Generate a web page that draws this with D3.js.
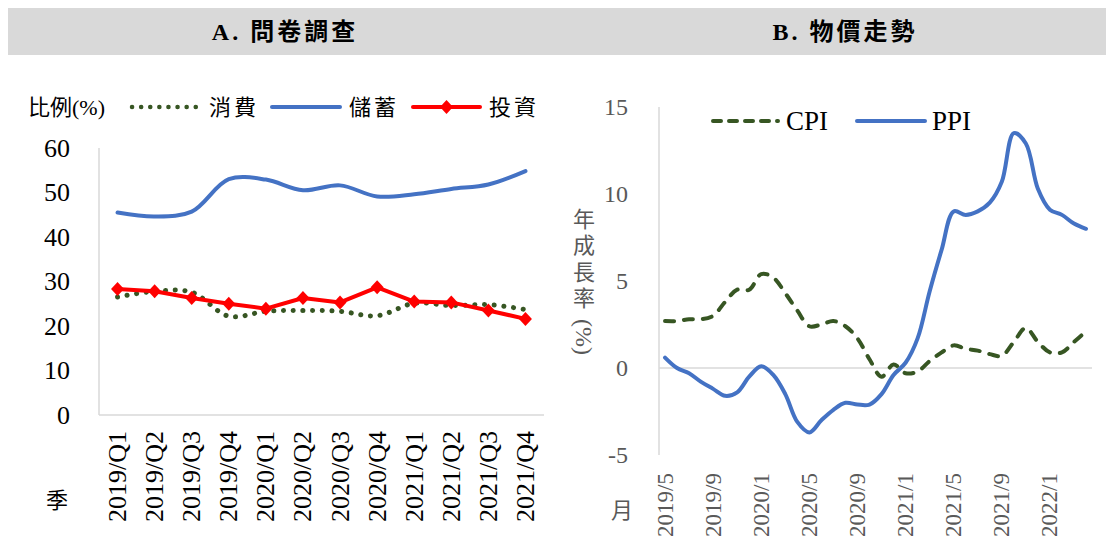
<!DOCTYPE html>
<html><head><meta charset="utf-8">
<script src="https://cdn.jsdelivr.net/npm/d3@7"></script>
<style>body{margin:0;background:#fff} svg{display:block}</style>
</head><body>
<svg id="c" width="1110" height="540"></svg>
<script>
// ---------- Panel A data ----------
const quarters = ["2019/Q1","2019/Q2","2019/Q3","2019/Q4","2020/Q1","2020/Q2","2020/Q3","2020/Q4","2021/Q1","2021/Q2","2021/Q3","2021/Q4"];
const consumption = [26.5, 27.8, 27.6, 22.2, 23.3, 23.5, 23.3, 22.3, 25.1, 24.6, 24.8, 23.7];
const savings     = [45.5, 44.6, 45.7, 53.0, 52.9, 50.5, 51.6, 49.1, 49.6, 50.8, 51.8, 54.8];
const investment  = [28.3, 27.8, 26.3, 25.0, 23.9, 26.3, 25.3, 28.7, 25.5, 25.3, 23.5, 21.6];
const leftTicks = [0, 10, 20, 30, 40, 50, 60];
const leftLegend = ["消費", "儲蓄", "投資"];

// ---------- Panel B data ----------
const months = ["2019/5","2019/6","2019/7","2019/8","2019/9","2019/10","2019/11","2019/12",
  "2020/1","2020/2","2020/3","2020/4","2020/5","2020/6","2020/7","2020/8","2020/9","2020/10","2020/11","2020/12",
  "2021/1","2021/2","2021/3","2021/4","2021/5","2021/6","2021/7","2021/8","2021/9","2021/10","2021/11","2021/12",
  "2022/1","2022/2","2022/3","2022/4"];
const cpi = [2.7,2.7,2.8,2.8,3.0,3.8,4.5,4.5,5.4,5.2,4.3,3.3,2.4,2.5,2.7,2.4,1.7,0.5,-0.5,0.2,
  -0.3,-0.2,0.4,0.9,1.3,1.1,1.0,0.8,0.7,1.5,2.3,1.5,0.9,0.9,1.5,2.1];
const ppi = [0.6,0.0,-0.3,-0.8,-1.2,-1.6,-1.4,-0.5,0.1,-0.4,-1.5,-3.1,-3.7,-3.0,-2.4,-2.0,-2.1,-2.1,-1.5,-0.4,
  0.3,1.7,4.4,6.8,9.0,8.8,9.0,9.5,10.7,13.5,12.9,10.3,9.1,8.8,8.3,8.0];
const monthTickLabels = ["2019/5","2019/9","2020/1","2020/5","2020/9","2021/1","2021/5","2021/9","2022/1"];
const rightTicks = [-5, 0, 5, 10, 15];
const rightLegend = ["CPI", "PPI"];

const titles = ["A. 問卷調查", "B. 物價走勢"];

// ---------- styling ----------
const SERIF = "'Liberation Serif','Times New Roman','Noto Sans CJK TC',serif";
const CJK = "'Liberation Serif','Noto Sans CJK TC','Noto Sans CJK SC',serif";
const BLUE = "#4472C4", GREEN = "#375623", RED = "#FF0000", AXIS = "#d9d9d9", GRAYTXT = "#595959";

const svg = d3.select("#c");

// Title bar
svg.append("rect").attr("x", 8).attr("y", 8).attr("width", 1098).attr("height", 47).attr("fill", "#d9d9d9");
svg.selectAll("text.title").data(titles).join("text")
  .attr("class", "title")
  .attr("x", (d, i) => i === 0 ? 285 : 845).attr("y", 32)
  .attr("text-anchor", "middle").attr("dominant-baseline", "central")
  .attr("font-family", CJK).attr("font-weight", "bold").attr("font-size", 24).attr("letter-spacing", 3)
  .attr("fill", "#000").text(d => d);

// ================= Panel A =================
const xA = d3.scaleBand().domain(quarters).range([99, 544]);
const yA = d3.scaleLinear().domain([0, 60]).range([415, 148]);
const cx = d => xA(d) + xA.bandwidth() / 2;

const gA = svg.append("g");
gA.append("line").attr("x1", 99).attr("x2", 99).attr("y1", yA(60)).attr("y2", yA(0))
  .attr("stroke", AXIS).attr("stroke-width", 1.5);
gA.append("line").attr("x1", 99).attr("x2", 544).attr("y1", yA(0)).attr("y2", yA(0))
  .attr("stroke", AXIS).attr("stroke-width", 1.5);

gA.selectAll("text.yt").data(leftTicks).join("text")
  .attr("class", "yt").attr("x", 70).attr("y", d => yA(d))
  .attr("text-anchor", "end").attr("dominant-baseline", "central")
  .attr("font-family", SERIF).attr("font-size", 26).attr("fill", "#000").text(d => d);

gA.selectAll("text.xt").data(quarters).join("text")
  .attr("class", "xt")
  .attr("transform", d => `translate(${cx(d)},431) rotate(-90)`)
  .attr("text-anchor", "end").attr("dominant-baseline", "central")
  .attr("font-family", SERIF).attr("font-size", 26).attr("fill", "#000").text(d => d);

gA.append("text").attr("x", 57).attr("y", 500).attr("text-anchor", "middle").attr("dominant-baseline", "central")
  .attr("font-family", CJK).attr("font-size", 22).attr("fill", "#000").text("季");

const smoothA = d3.line().x((d, i) => cx(quarters[i])).y(d => yA(d)).curve(d3.curveCatmullRom.alpha(0.5));
const straightA = d3.line().x((d, i) => cx(quarters[i])).y(d => yA(d));

gA.append("path").attr("d", smoothA(savings)).attr("fill", "none").attr("stroke", BLUE)
  .attr("stroke-width", 4).attr("stroke-linecap", "round");
gA.append("path").attr("d", smoothA(consumption)).attr("fill", "none").attr("stroke", GREEN)
  .attr("stroke-width", 5).attr("stroke-linecap", "round").attr("stroke-dasharray", "0.1 9.6");
gA.append("path").attr("d", straightA(investment)).attr("fill", "none").attr("stroke", RED)
  .attr("stroke-width", 4).attr("stroke-linejoin", "round");
const diamond = "M0,-7L6.5,0L0,7L-6.5,0Z";
gA.selectAll("path.dm").data(investment).join("path")
  .attr("class", "dm").attr("d", diamond)
  .attr("transform", (d, i) => `translate(${cx(quarters[i])},${yA(d)})`)
  .attr("fill", RED);

// legend A
const legA = svg.append("g");
legA.append("text").attr("x", 28).attr("y", 107).attr("dominant-baseline", "central")
  .attr("font-family", CJK).attr("font-size", 22).attr("fill", "#000").text("比例(%)");
const legSpecs = [
  {x0: 132, x1: 198, tx: 209, color: GREEN, dash: "0.1 9", w: 4.5, marker: false},
  {x0: 272, x1: 340, tx: 349, color: BLUE, dash: null, w: 4, marker: false},
  {x0: 413, x1: 480, tx: 489, color: RED, dash: null, w: 4, marker: true}
];
legSpecs.forEach((s, i) => {
  const l = legA.append("line").attr("x1", s.x0).attr("x2", s.x1).attr("y1", 107).attr("y2", 107)
    .attr("stroke", s.color).attr("stroke-width", s.w).attr("stroke-linecap", "round");
  if (s.dash) l.attr("stroke-dasharray", s.dash);
  if (s.marker) legA.append("path").attr("d", diamond).attr("transform", `translate(${(s.x0 + s.x1) / 2},107)`).attr("fill", RED);
  legA.append("text").attr("x", s.tx).attr("y", 107).attr("dominant-baseline", "central")
    .attr("font-family", CJK).attr("font-size", 22).attr("letter-spacing", 3).attr("fill", "#000").text(leftLegend[i]);
});

// ================= Panel B =================
const xB = d3.scaleBand().domain(months).range([659, 1092]);
const yB = d3.scaleLinear().domain([-5, 15]).range([455, 107]);
const mx = d => xB(d) + xB.bandwidth() / 2;

const gB = svg.append("g");
gB.append("line").attr("x1", 659).attr("x2", 659).attr("y1", yB(15)).attr("y2", yB(-5))
  .attr("stroke", AXIS).attr("stroke-width", 1.5);
gB.append("line").attr("x1", 659).attr("x2", 1092).attr("y1", yB(0)).attr("y2", yB(0))
  .attr("stroke", AXIS).attr("stroke-width", 1.5);

gB.selectAll("text.yt").data(rightTicks).join("text")
  .attr("class", "yt").attr("x", 628).attr("y", d => yB(d))
  .attr("text-anchor", "end").attr("dominant-baseline", "central")
  .attr("font-family", SERIF).attr("font-size", 24).attr("fill", GRAYTXT).text(d => d);

gB.selectAll("text.xt").data(monthTickLabels).join("text")
  .attr("class", "xt")
  .attr("transform", d => `translate(${mx(d)},473) rotate(-90)`)
  .attr("text-anchor", "end").attr("dominant-baseline", "central")
  .attr("font-family", SERIF).attr("font-size", 23).attr("fill", GRAYTXT).text(d => d);

gB.append("text").attr("x", 622).attr("y", 510).attr("text-anchor", "middle").attr("dominant-baseline", "central")
  .attr("font-family", CJK).attr("font-size", 22).attr("fill", GRAYTXT).text("月");

const titleChars = ["年", "成", "長", "率"];
gB.selectAll("text.yc").data(titleChars).join("text")
  .attr("class", "yc").attr("x", 584).attr("y", (d, i) => 219 + i * 26.5)
  .attr("text-anchor", "middle").attr("dominant-baseline", "central")
  .attr("font-family", CJK).attr("font-size", 22).attr("fill", GRAYTXT).text(d => d);
gB.append("text").attr("transform", "translate(584,319) rotate(90)")
  .attr("text-anchor", "start").attr("dominant-baseline", "central")
  .attr("font-family", SERIF).attr("font-size", 24).attr("fill", GRAYTXT).text("(%)");

const smoothB = d3.line().x((d, i) => mx(months[i])).y(d => yB(d)).curve(d3.curveCatmullRom.alpha(0.5));
gB.append("path").attr("d", smoothB(ppi)).attr("fill", "none").attr("stroke", BLUE)
  .attr("stroke-width", 4).attr("stroke-linecap", "round");
gB.append("path").attr("d", smoothB(cpi)).attr("fill", "none").attr("stroke", GREEN)
  .attr("stroke-width", 4).attr("stroke-linecap", "round").attr("stroke-dasharray", "9 10");

// legend B
const legB = svg.append("g");
const legBSpecs = [
  {x0: 713, x1: 778, tx: 786, color: GREEN, dash: "8 8"},
  {x0: 857, x1: 925, tx: 932, color: BLUE, dash: null}
];
legBSpecs.forEach((s, i) => {
  const l = legB.append("line").attr("x1", s.x0).attr("x2", s.x1).attr("y1", 121).attr("y2", 121)
    .attr("stroke", s.color).attr("stroke-width", 4).attr("stroke-linecap", "round");
  if (s.dash) l.attr("stroke-dasharray", s.dash);
  legB.append("text").attr("x", s.tx).attr("y", 121).attr("dominant-baseline", "central")
    .attr("font-family", SERIF).attr("font-size", 27).attr("fill", "#000").text(rightLegend[i]);
});
</script>
</body></html>
